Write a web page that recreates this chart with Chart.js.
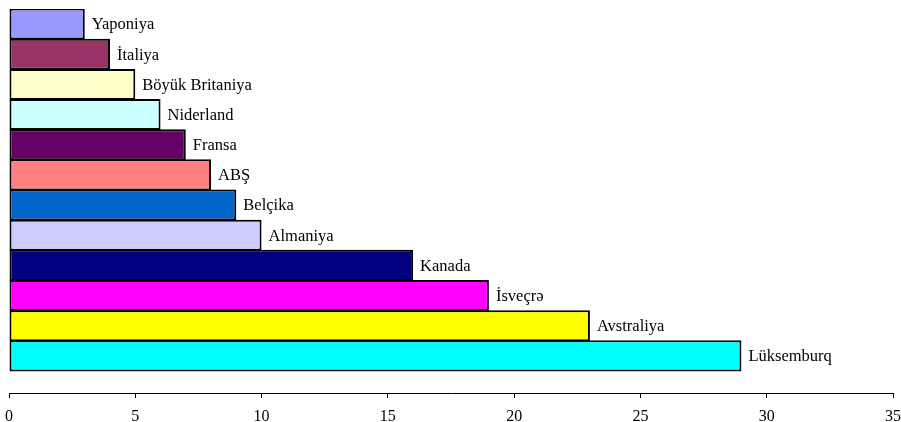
<!DOCTYPE html>
<html lang="az">
<head>
  <meta charset="UTF-8">
  <title>Ölkələr</title>
  <script src="https://cdn.jsdelivr.net/npm/chart.js"></script>
  <style>
    html, body { margin: 0; padding: 0; background: #fff; }
    #wrap { width: 901px; height: 422px; }
  </style>
</head>
<body>
  <div id="wrap"><canvas id="chart" width="901" height="422"></canvas></div>

  <script>
    // ölkələr yuxarıdan aşağıya
    const countries = ["Yaponiya", "İtaliya", "Böyük Britaniya", "Niderland", "Fransa", "ABŞ",
                       "Belçika", "Almaniya", "Kanada", "İsveçrə", "Avstraliya", "Lüksemburq"];
    const values = [3, 4, 5, 6, 7, 8, 9, 10, 16, 19, 23, 29];
    const colors = ["#9999FF", "#993366", "#FFFFCC", "#CCFFFF", "#660066", "#FF8080",
                    "#0066CC", "#CCCCFF", "#000080", "#FF00FF", "#FFFF00", "#00FFFF"];
    const xTicks = [0, 5, 10, 15, 20, 25, 30, 35];

    const serif = '"Liberation Serif", "DejaVu Serif", serif';

    // ölkə adlarını sütunun sağında yazır
    const barLabels = {
      id: 'barLabels',
      afterDatasetsDraw(chart) {
        const ctx = chart.ctx;
        const meta = chart.getDatasetMeta(0);
        ctx.save();
        ctx.font = '16.5px ' + serif;
        ctx.fillStyle = '#000';
        ctx.textAlign = 'left';
        ctx.textBaseline = 'middle';
        meta.data.forEach((bar, i) => {
          ctx.fillText(countries[i], bar.x + 7, bar.y + 1);
        });
        ctx.restore();
      }
    };

    const ctx = document.getElementById('chart').getContext('2d');
    new Chart(ctx, {
      type: 'bar',
      data: {
        datasets: [{
          data: values.map((v, i) => ({ x: v, y: i })),
          backgroundColor: colors,
          borderColor: '#000',
          borderWidth: 2,
          borderSkipped: false,
          // slight overlap so neighbouring borders merge into one line
          barPercentage: 1.03,
          categoryPercentage: 1
        }]
      },
      options: {
        indexAxis: 'y',
        responsive: false,
        animation: false,
        layout: { padding: { left: 9, right: 8, top: 9, bottom: -14 } },
        plugins: { legend: { display: false }, tooltip: { enabled: false } },
        scales: {
          y: {
            type: 'linear',
            reverse: true,
            offset: false,
            min: -0.5,
            max: 12.23,
            // one step per country so each bar fills its row
            afterBuildTicks: (scale) => { scale.ticks = countries.map((c, i) => ({ value: i })); },
            display: false
          },
          x: {
            type: 'linear',
            min: 0,
            max: 35,
            afterBuildTicks: (scale) => { scale.ticks = xTicks.map(v => ({ value: v })); },
            // end labels may hang over the edges, the layout padding is enough
            afterFit: (scale) => { scale.paddingLeft = 0; scale.paddingRight = 0; },
            grid: { drawOnChartArea: false, drawTicks: true, tickLength: 5, color: '#000' },
            border: { display: true, color: '#000', width: 1 },
            ticks: {
              color: '#000',
              padding: 11,
              maxRotation: 0,
              font: { family: serif, size: 16, lineHeight: 1 }
            }
          }
        }
      },
      plugins: [barLabels]
    });
  </script>
</body>
</html>
